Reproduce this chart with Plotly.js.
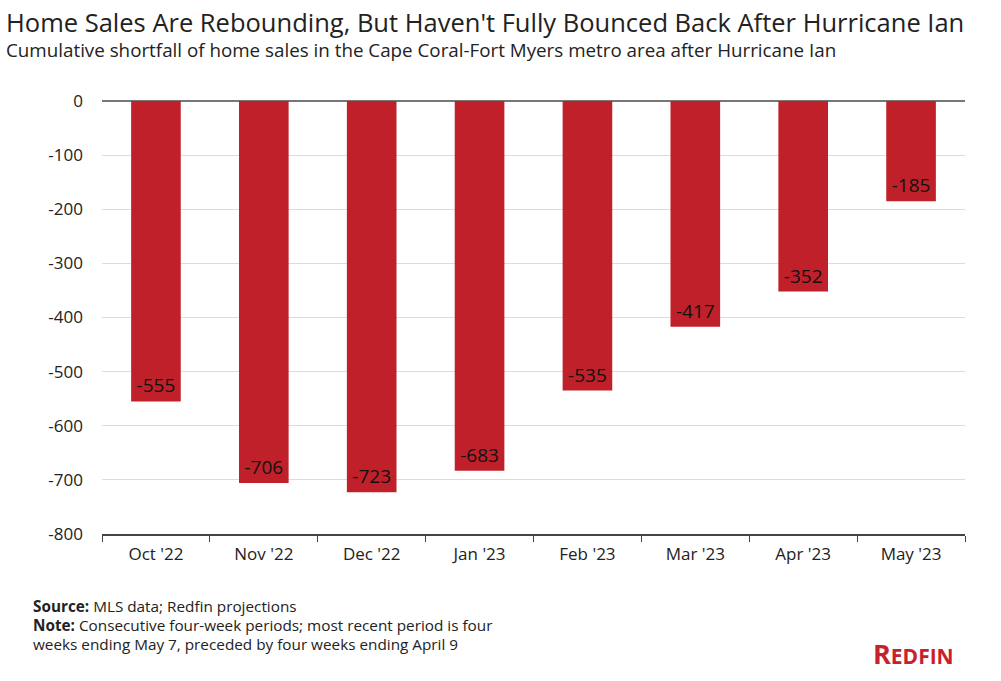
<!DOCTYPE html>
<html>
<head>
<meta charset="utf-8">
<script src="https://cdn.plot.ly/plotly-3.0.1.min.js"></script>
<style>html,body{margin:0;padding:0;background:#fff;}#chart{width:1001px;height:681px;}</style>
</head>
<body>
<div id="chart"></div>
<script>
const categories = ["Oct '22", "Nov '22", "Dec '22", "Jan '23", "Feb '23", "Mar '23", "Apr '23", "May '23"];
const shortfall = [-555, -706, -723, -683, -535, -417, -352, -185];
const yTicks = [0, -100, -200, -300, -400, -500, -600, -700, -800];

const W = 1001, H = 681, L = 102, R = 965, T = 101, B = 534;
const px = x => (x - L) / (R - L);
const py = y => (B - y) / (B - T);

const font = "'Open Sans', Roboto, sans-serif";

const trace = {
  type: 'bar',
  x: categories,
  y: shortfall,
  marker: {color: '#c0202a'},
  text: shortfall.map(String),
  textposition: 'inside',
  insidetextanchor: 'end',
  textangle: 0,
  textfont: {color: '#111', size: 19, family: font},
  cliponaxis: false,
  hoverinfo: 'x+y'
};

const layout = {
  width: W, height: H,
  margin: {l: L, r: W - R, t: T, b: H - B, pad: 0},
  paper_bgcolor: '#fff', plot_bgcolor: '#fff',
  showlegend: false,
  bargap: 0.54,
  font: {family: font, color: '#222'},
  xaxis: {
    type: 'category',
    tickson: 'boundaries',
    ticks: 'outside', ticklen: 6, tickcolor: '#444', tickwidth: 1,
    showline: true, linecolor: '#444', linewidth: 1.5,
    showgrid: false, zeroline: false,
    ticklabelstandoff: 4,
    tickfont: {size: 17, color: '#222', family: font},
    fixedrange: true
  },
  yaxis: {
    range: [-800, 0],
    tickvals: yTicks,
    ticktext: yTicks.map(String),
    showgrid: true, gridcolor: '#dcdcdc', gridwidth: 1,
    zeroline: true, zerolinecolor: '#777', zerolinewidth: 1.5,
    showline: false, ticks: '',
    ticklabelstandoff: 18,
    tickfont: {size: 17, color: '#222', family: font},
    fixedrange: true
  },
  annotations: [
    {text: "Home Sales Are Rebounding, But Haven't Fully Bounced Back After Hurricane Ian",
     xref: 'paper', yref: 'paper', x: px(4), y: py(22), xanchor: 'left', yanchor: 'middle',
     showarrow: false, font: {size: 25.5, color: '#222', family: font}},
    {text: "Cumulative shortfall of home sales in the Cape Coral-Fort Myers metro area after Hurricane Ian",
     xref: 'paper', yref: 'paper', x: px(4), y: py(50), xanchor: 'left', yanchor: 'middle',
     showarrow: false, font: {size: 18.8, color: '#222', family: font}},
    {text: "<b>Source:</b> MLS data; Redfin projections",
     xref: 'paper', yref: 'paper', x: px(31), y: py(606), xanchor: 'left', yanchor: 'middle',
     showarrow: false, font: {size: 15.3, color: '#222', family: font}},
    {text: "<b>Note:</b> Consecutive four-week periods; most recent period is four",
     xref: 'paper', yref: 'paper', x: px(31), y: py(625), xanchor: 'left', yanchor: 'middle',
     showarrow: false, font: {size: 15.3, color: '#222', family: font}},
    {text: "weeks ending May 7, preceded by four weeks ending April 9",
     xref: 'paper', yref: 'paper', x: px(31), y: py(644), xanchor: 'left', yanchor: 'middle',
     showarrow: false, font: {size: 15.3, color: '#222', family: font}},
    {text: "<b>R</b><b style='font-size:21px'>EDFIN</b>",
     xref: 'paper', yref: 'paper', x: px(956), y: py(653), xanchor: 'right', yanchor: 'middle',
     showarrow: false, font: {size: 27, color: '#c8202c', family: font}}
  ]
};

Plotly.newPlot('chart', [trace], layout, {displayModeBar: false, staticPlot: true});
</script>
</body>
</html>
